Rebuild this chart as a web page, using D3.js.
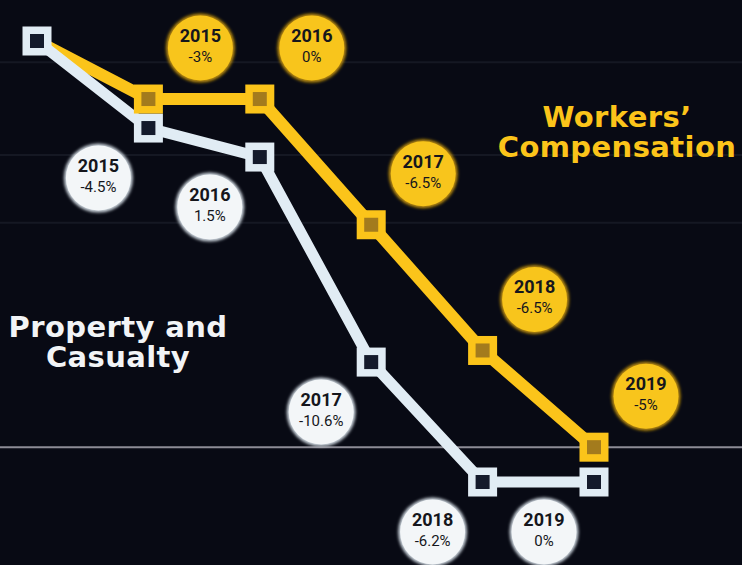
<!DOCTYPE html>
<html>
<head>
<meta charset="utf-8">
<script src="https://cdn.jsdelivr.net/npm/d3@7"></script>
<style>
  html, body { margin: 0; padding: 0; background: #080a14; }
  svg { display: block; }
</style>
</head>
<body>
<svg id="chart"></svg>
<script>
//////////////// Daten ////////////////////
const years = ["2014", "2015", "2016", "2017", "2018", "2019"];
// cumulative level (percent points) as drawn in the graphic
const pcLevel = [0, -4.5, -6.0, -16.6, -22.8, -22.8];
const wcLevel = [0, -3, -3, -9.5, -16, -21];
// bubble labels (2015..2019)
const pcLabels = ["-4.5%", "1.5%", "-10.6%", "-6.2%", "0%"];
const wcLabels = ["-3%", "0%", "-6.5%", "-6.5%", "-5%"];
const gridFaint = [-1.1, -5.9, -9.4];
const gridBright = [-21];

//////////////// Konstanten ////////////////////
const width = 742, height = 565;
const col = {
  bg: "#080a14",
  white: "#e1ecf4",
  whiteInner: "#141a2b",
  yellow: "#fbc41a",
  yellowInner: "#a37b1d",
  bubbleW: "#f3f6f8",
  bubbleY: "#f8c51c",
  text: "#15161c"
};

const svg = d3.select("#chart")
  .attr("width", width)
  .attr("height", height);

svg.append("rect").attr("width", width).attr("height", height).attr("fill", col.bg);

const defs = svg.append("defs");
defs.append("filter").attr("id", "glow")
  .attr("x", "-30%").attr("y", "-30%").attr("width", "160%").attr("height", "160%")
  .append("feGaussianBlur").attr("stdDeviation", 1.8);

////////////////// Scaling ////////////
const x = d3.scalePoint().domain(years).range([37, 594]);
const y = d3.scaleLinear().domain([0, -22.8]).range([41, 482]);

// grid lines
svg.append("g").selectAll("line")
  .data(gridFaint).enter().append("line")
  .attr("x1", 0).attr("x2", width)
  .attr("y1", d => y(d)).attr("y2", d => y(d))
  .attr("stroke", "#151823").attr("stroke-width", 2);
svg.append("g").selectAll("line")
  .data(gridBright).enter().append("line")
  .attr("x1", 0).attr("x2", width)
  .attr("y1", d => y(d)).attr("y2", d => y(d))
  .attr("stroke", "#8d8c96").attr("stroke-width", 2);

////////////////// Linien ////////////
const line = d3.line()
  .x((d, i) => x(years[i]))
  .y(d => y(d));

svg.append("path").datum(wcLevel)
  .attr("d", line).attr("fill", "none")
  .attr("stroke", col.yellow).attr("stroke-width", 12)
  .attr("stroke-linejoin", "miter");

svg.append("path").datum(pcLevel)
  .attr("d", line).attr("fill", "none")
  .attr("stroke", col.white).attr("stroke-width", 11)
  .attr("stroke-linejoin", "miter");

////////////////// Marker ////////////
const outer = 29, inner = 14;
function markers(levels, fillOuter, fillInner, skipFirst) {
  const g = svg.append("g");
  const data = levels.map((v, i) => ({year: years[i], v: v})).filter((d, i) => !(skipFirst && i === 0));
  const m = g.selectAll("g").data(data).enter().append("g")
    .attr("transform", d => "translate(" + x(d.year) + "," + y(d.v) + ")");
  m.append("rect")
    .attr("x", -outer / 2).attr("y", -outer / 2)
    .attr("width", outer).attr("height", outer)
    .attr("fill", fillOuter);
  m.append("rect")
    .attr("x", -inner / 2).attr("y", -inner / 2)
    .attr("width", inner).attr("height", inner)
    .attr("fill", fillInner);
}
markers(pcLevel, col.white, col.whiteInner, false);
markers(wcLevel, col.yellow, col.yellowInner, true);

////////////////// Bubbles ////////////
const r = 33;
function bubbles(levels, labels, dx, dy, fill, edge) {
  const data = labels.map((lab, i) => ({year: years[i + 1], v: levels[i + 1], lab: lab}));
  const b = svg.append("g").selectAll("g").data(data).enter().append("g")
    .attr("transform", d => "translate(" + (x(d.year) + dx) + "," + (y(d.v) + dy) + ")");
  b.append("circle").attr("r", r + 1.5).attr("fill", edge).attr("filter", "url(#glow)");
  b.append("circle").attr("r", r - 0.5).attr("fill", fill);
  b.append("text")
    .attr("text-anchor", "middle").attr("y", -6)
    .attr("font-family", "Roboto, 'Liberation Sans', sans-serif")
    .attr("font-weight", 700).attr("font-size", 18)
    .attr("fill", col.text)
    .text(d => d.year);
  b.append("text")
    .attr("text-anchor", "middle").attr("y", 14)
    .attr("font-family", "Roboto, 'Liberation Sans', sans-serif")
    .attr("font-weight", 400).attr("font-size", 15)
    .attr("fill", col.text)
    .text(d => d.lab);
}
bubbles(pcLevel, pcLabels, -50, 50, col.bubbleW, "#c9d2da");
bubbles(wcLevel, wcLabels, 52, -51, col.bubbleY, "#b98b0c");

////////////////// Titel ////////////
function title(lines, cx, y0, color) {
  const t = svg.append("text")
    .attr("text-anchor", "middle")
    .attr("font-family", "'DejaVu Sans', sans-serif")
    .attr("font-weight", 700).attr("font-size", 29)
    .attr("letter-spacing", 0.4)
    .attr("fill", color);
  lines.forEach((l, i) => {
    t.append("tspan").attr("x", cx).attr("y", y0 + i * 30).text(l);
  });
}
title(["Workers\u2019", "Compensation"], 617, 127, col.yellow);
title(["Property and", "Casualty"], 118, 337, "#f2f4f6");
</script>
</body>
</html>
